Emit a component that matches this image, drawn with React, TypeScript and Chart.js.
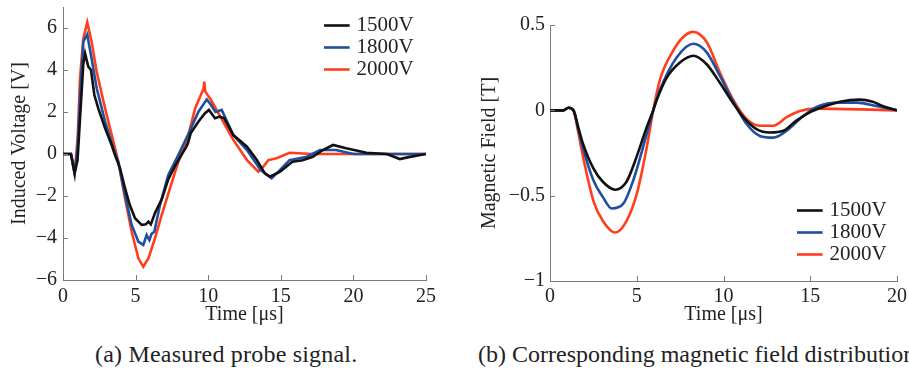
import React, { useEffect, useRef } from 'react';
import { Chart, registerables } from 'chart.js';

Chart.register(...registerables);

// ---------- Data: (a) measured probe signal ----------
const seriesLabels = ['1500V', '1800V', '2000V'];
const seriesColors = ['#111111', '#1f4f9e', '#ff3f1c'];

const probeT1500 = [0, 0.55, 0.8, 1.0, 1.2, 1.4, 1.52, 1.74, 1.93, 2.16, 2.43, 2.9, 3.35, 3.58, 3.93, 4.27, 4.6, 4.96, 5.42, 5.7, 5.88, 6.05, 6.34, 6.8, 7.25, 7.7, 8.17, 8.5, 8.6, 8.8, 9.32, 9.78, 10.05, 10.47, 10.8, 11.1, 11.73, 12.67, 13.35, 13.9, 14.25, 14.95, 15.8, 16.5, 17.2, 17.9, 18.6, 19.5, 20.9, 22.3, 23.2, 23.8, 25];
const probeV1500 = [0, 0, -0.92, -0.3, 2.0, 4.3, 4.79, 4.16, 4.0, 2.81, 2.17, 1.22, 0.43, -0.05, -0.68, -1.63, -2.43, -3.06, -3.38, -3.35, -3.22, -3.35, -2.8, -2.16, -1.21, -0.59, -0.03, 0.35, 0.5, 1.0, 1.54, 1.94, 2.1, 1.7, 1.78, 1.7, 0.9, 0.35, -0.29, -0.92, -1.08, -0.84, -0.37, -0.3, -0.13, 0.19, 0.43, 0.27, 0.06, 0.0, -0.24, -0.15, 0];

const probeT1800 = [0, 0.55, 0.8, 1.0, 1.2, 1.4, 1.67, 1.97, 2.32, 2.9, 3.47, 3.81, 4.27, 4.73, 5.19, 5.53, 5.76, 5.95, 6.1, 6.29, 6.68, 7.25, 7.94, 8.6, 9.32, 9.9, 10.2, 10.5, 10.93, 11.73, 12.67, 13.6, 14.37, 14.95, 15.6, 16.8, 17.7, 18.8, 20, 22, 25];
const probeV1800 = [0, 0, -0.92, 0.3, 3.0, 5.35, 5.7, 4.55, 3.13, 1.54, 0.27, -0.37, -1.95, -3.38, -4.17, -4.33, -3.86, -4.1, -3.8, -3.7, -2.43, -1.0, -0.05, 0.9, 2.0, 2.6, 2.33, 2.0, 2.1, 0.9, 0.19, -0.76, -1.16, -0.76, -0.29, -0.13, 0.19, 0.19, 0.0, 0.0, 0];

const probeT2000 = [0, 0.55, 0.8, 1.01, 1.17, 1.4, 1.67, 1.97, 2.32, 2.9, 3.47, 3.81, 4.27, 4.73, 5.19, 5.53, 5.88, 6.34, 6.8, 7.37, 7.94, 8.52, 9.1, 9.55, 9.68, 9.73, 9.8, 10.2, 10.9, 11.73, 12.67, 13.45, 13.8, 14.14, 14.71, 15.6, 17.2, 25];
const probeV2000 = [0, 0, -0.92, 0.75, 3.6, 5.5, 6.27, 5.35, 3.92, 2.17, 0.59, -0.37, -2.11, -3.7, -4.97, -5.37, -4.97, -4.0, -2.9, -1.63, -0.37, 0.59, 2.17, 2.9, 3.1, 3.45, 2.97, 2.57, 1.7, 0.67, -0.29, -0.84, -0.6, -0.29, -0.2, 0.06, 0.0, 0];

const probeXTicks = [0, 5, 10, 15, 20, 25];
const probeYTicks = [-6, -4, -2, 0, 2, 4, 6];

// ---------- Data: (b) magnetic field ----------
const fieldT1500 = [0, 0.77, 1.06, 1.35, 1.63, 1.9, 2.5, 3.06, 3.75, 4.4, 5.0, 5.57, 5.95, 6.15, 6.72, 7.49, 8.26, 9.03, 9.8, 10.57, 11.14, 11.9, 12.68, 13.45, 14.2, 15, 15.75, 16.7, 17.87, 18.6, 19.2, 20];
const fieldB1500 = [0, 0, 0.015, 0, -0.1, -0.195, -0.34, -0.42, -0.465, -0.42, -0.27, -0.1, 0.0, 0.06, 0.19, 0.28, 0.32, 0.27, 0.16, 0.04, -0.04, -0.11, -0.13, -0.12, -0.06, -0.01, 0.02, 0.05, 0.063, 0.05, 0.024, 0];

const fieldT1800 = [0, 0.77, 1.06, 1.35, 1.63, 1.9, 2.5, 3.06, 3.56, 4.2, 4.8, 5.57, 5.95, 6.34, 7.3, 8.26, 9.03, 9.8, 10.57, 11.33, 12.1, 12.87, 13.64, 14.4, 15.37, 16.7, 17.7, 18.8, 20];
const fieldB1800 = [0, 0, 0.015, 0, -0.11, -0.22, -0.41, -0.51, -0.575, -0.55, -0.41, -0.14, 0.0, 0.12, 0.31, 0.39, 0.34, 0.2, 0.05, -0.08, -0.15, -0.16, -0.12, -0.05, 0.02, 0.045, 0.045, 0.025, 0];

const fieldT2000 = [0, 0.77, 1.06, 1.35, 1.63, 1.9, 2.5, 3.06, 3.75, 4.4, 5.0, 5.57, 5.95, 6.34, 7.1, 7.68, 8.26, 9.03, 9.8, 10.57, 11.33, 12.1, 12.87, 13.64, 14.4, 15.37, 20];
const fieldB2000 = [0, 0, 0.015, 0, -0.13, -0.27, -0.53, -0.65, -0.716, -0.65, -0.49, -0.22, 0.0, 0.18, 0.35, 0.43, 0.46, 0.40, 0.22, 0.06, -0.05, -0.09, -0.09, -0.04, -0.004, 0.01, 0];

const fieldXTicks = [0, 5, 10, 15, 20];
const fieldYTicks = [-1, -0.5, 0, 0.5];

// ---------- helpers ----------
const SERIF = '"Liberation Serif", "Times New Roman", serif';
const TEXT = '#222222';
const AXIS = '#7a7a7a';

const pairs = (xs: number[], ys: number[]) => xs.map((x, i) => ({ x, y: ys[i] }));
const fmt = (v: number) => (v < 0 ? '\u2212' + String(Math.abs(v)) : String(v));

const innerTicks = {
  id: 'innerTicks',
  afterDraw(chart: any) {
    const { ctx, chartArea, scales } = chart;
    ctx.save();
    ctx.strokeStyle = AXIS;
    ctx.lineWidth = 1;
    scales.x.ticks.forEach((t: any) => {
      const px = Math.round(scales.x.getPixelForValue(t.value)) + 0.5;
      ctx.beginPath();
      ctx.moveTo(px, chartArea.bottom);
      ctx.lineTo(px, chartArea.bottom - 5);
      ctx.stroke();
    });
    scales.y.ticks.forEach((t: any) => {
      const py = Math.round(scales.y.getPixelForValue(t.value)) + 0.5;
      ctx.beginPath();
      ctx.moveTo(chartArea.left, py);
      ctx.lineTo(chartArea.left + 5, py);
      ctx.stroke();
    });
    ctx.restore();
  },
};

const legendPlace = (x: number, y: number) => ({
  id: 'legendPlace',
  afterLayout(chart: any) {
    const lg = chart.legend;
    if (!lg) return;
    const pad = lg.options.labels.padding;
    lg.left = x - pad;
    lg.top = y - pad;
    lg.right = lg.left + 200;
    lg.bottom = lg.top + 200;
  },
});

type Cfg = {
  datasets: { t: number[]; v: number[] }[];
  xMin: number; xMax: number; yMin: number; yMax: number;
  xTicks: number[]; yTicks: number[];
  yTitle: string;
  yAxisWidth: number; xAxisHeight: number;
  padTop: number; padRight: number;
  yTitlePad: number; yTickPad: number; xTickPad: number;
  legendX: number; legendY: number;
  smooth: boolean;
};

function PlotCanvas({ cfg, width, height }: { cfg: Cfg; width: number; height: number }) {
  const ref = useRef<HTMLCanvasElement | null>(null);
  useEffect(() => {
    if (!ref.current) return;
    const zeroPad = (s: any) => {
      s.paddingTop = 0; s.paddingBottom = 0; s.paddingLeft = 0; s.paddingRight = 0;
    };
    const chart = new Chart(ref.current, {
      type: 'line',
      data: {
        datasets: cfg.datasets.map((d, i) => ({
          label: seriesLabels[i],
          data: pairs(d.t, d.v),
          borderColor: seriesColors[i],
          backgroundColor: seriesColors[i],
          borderWidth: 2.6,
          pointRadius: 0,
          fill: false,
          tension: cfg.smooth ? 0.4 : 0,
          cubicInterpolationMode: cfg.smooth ? 'monotone' : 'default',
        })) as any,
      },
      options: {
        responsive: false,
        animation: false,
        events: [],
        layout: { padding: { top: cfg.padTop, right: cfg.padRight, left: 0, bottom: 0 } },
        plugins: {
          legend: {
            display: true,
            position: 'chartArea' as any,
            align: 'start',
            labels: {
              usePointStyle: true,
              pointStyle: 'line',
              boxHeight: 20,
              padding: 1,
              color: TEXT,
              font: { family: SERIF, size: 21 },
            },
          },
          tooltip: { enabled: false },
        },
        scales: {
          x: {
            type: 'linear',
            min: cfg.xMin,
            max: cfg.xMax,
            afterBuildTicks: (s: any) => { s.ticks = cfg.xTicks.map((value) => ({ value })); },
            afterFit: (s: any) => { s.height = cfg.xAxisHeight; zeroPad(s); },
            grid: { display: false, drawTicks: false },
            border: { display: true, color: AXIS, width: 1 },
            ticks: { color: TEXT, font: { family: SERIF, size: 20 }, padding: cfg.xTickPad, maxRotation: 0, callback: (v: any) => fmt(Number(v)) },
            title: { display: true, text: 'Time [\u03bcs]', color: TEXT, font: { family: SERIF, size: 20 }, padding: { top: 0, bottom: 3 } },
          },
          y: {
            type: 'linear',
            min: cfg.yMin,
            max: cfg.yMax,
            afterBuildTicks: (s: any) => { s.ticks = cfg.yTicks.map((value) => ({ value })); },
            afterFit: (s: any) => { s.width = cfg.yAxisWidth; zeroPad(s); },
            grid: { display: false, drawTicks: false },
            border: { display: true, color: AXIS, width: 1 },
            ticks: { color: TEXT, font: { family: SERIF, size: 20 }, padding: cfg.yTickPad, callback: (v: any) => fmt(Number(v)) },
            title: { display: true, text: cfg.yTitle, color: TEXT, font: { family: SERIF, size: 20 }, padding: { top: cfg.yTitlePad, bottom: 0 } },
          },
        },
      },
      plugins: [innerTicks, legendPlace(cfg.legendX, cfg.legendY)],
    });
    return () => chart.destroy();
  }, [cfg, width, height]);
  return <canvas ref={ref} width={width} height={height} style={{ display: 'block', width, height }} />;
}

const probeCfg: Cfg = {
  datasets: [
    { t: probeT1500, v: probeV1500 },
    { t: probeT1800, v: probeV1800 },
    { t: probeT2000, v: probeV2000 },
  ],
  xMin: 0, xMax: 25, yMin: -6, yMax: 7,
  xTicks: probeXTicks, yTicks: probeYTicks,
  yTitle: 'Induced Voltage [V]',
  yAxisWidth: 63, xAxisHeight: 50,
  padTop: 7, padRight: 24,
  yTitlePad: 8, yTickPad: 6, xTickPad: 5,
  legendX: 325, legendY: 15,
  smooth: false,
};

const fieldCfg: Cfg = {
  datasets: [
    { t: fieldT1500, v: fieldB1500 },
    { t: fieldT1800, v: fieldB1800 },
    { t: fieldT2000, v: fieldB2000 },
  ],
  xMin: 0, xMax: 20, yMin: -1, yMax: 0.5,
  xTicks: fieldXTicks, yTicks: fieldYTicks,
  yTitle: 'Magnetic Field [T]',
  yAxisWidth: 100, xAxisHeight: 49,
  padTop: 25, padRight: 12,
  yTitlePad: 28, yTickPad: 5, xTickPad: 4,
  legendX: 348, legendY: 200,
  smooth: true,
};

export default function App() {
  const caption: React.CSSProperties = {
    position: 'absolute',
    top: 340,
    fontFamily: SERIF,
    fontSize: 24,
    lineHeight: '28px',
    color: TEXT,
    whiteSpace: 'nowrap',
  };
  return (
    <div style={{ position: 'absolute', left: 0, top: 0, width: 909, height: 371, overflow: 'hidden', background: '#ffffff' }}>
      <div style={{ position: 'absolute', left: 0, top: 0 }}>
        <PlotCanvas cfg={probeCfg} width={450} height={330} />
      </div>
      <div style={{ position: 'absolute', left: 450, top: 0 }}>
        <PlotCanvas cfg={fieldCfg} width={459} height={330} />
      </div>
      <div style={{ ...caption, left: 95, letterSpacing: '0.2px' }}>(a) Measured probe signal.</div>
      <div style={{ ...caption, left: 478 }}>(b) Corresponding magnetic field distribution.</div>
    </div>
  );
}
